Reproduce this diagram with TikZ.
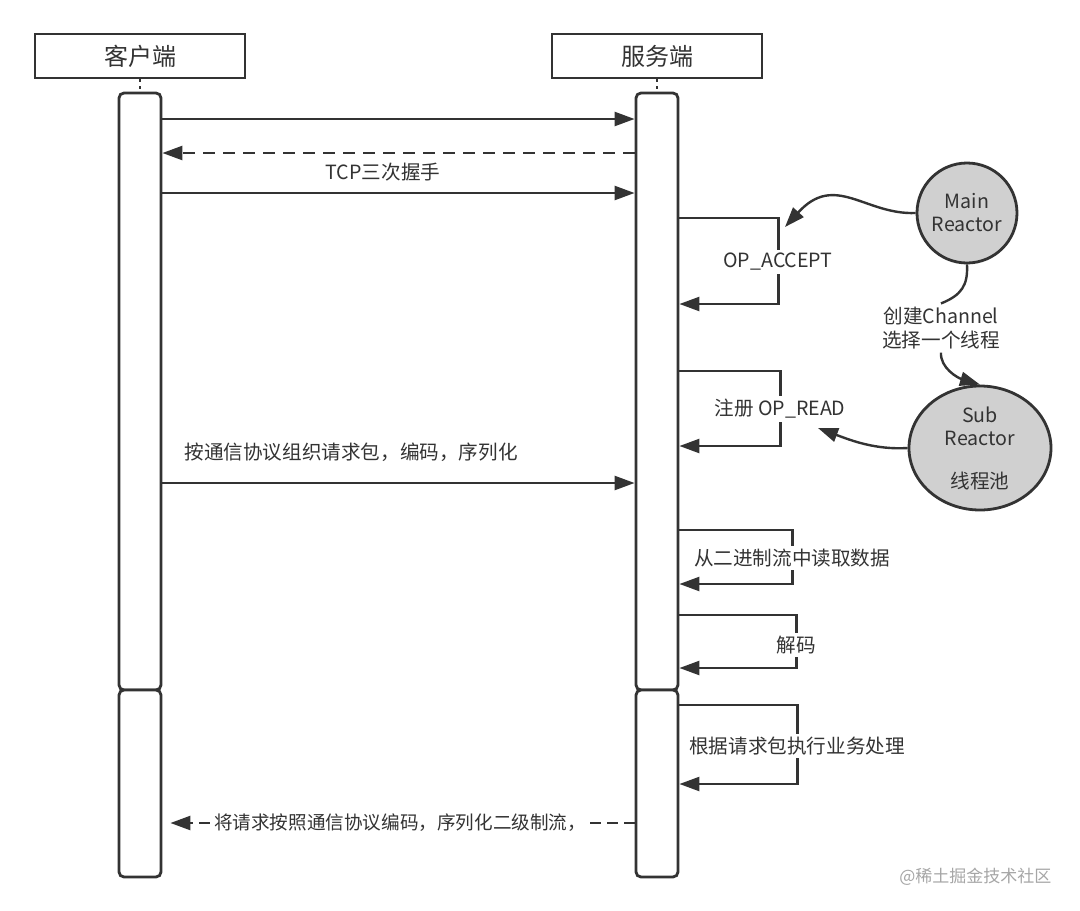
\documentclass[tikz,border=0pt]{standalone}
\usepackage{fontspec}
\setmainfont{Noto Sans CJK SC}
\usetikzlibrary{arrows.meta,shapes.geometric}
\definecolor{ink}{HTML}{333333}
\definecolor{reactorgray}{HTML}{D0D0D0}
\tikzset{
  lane/.style={draw=ink,line width=2.8pt,fill=white,minimum width=210pt,minimum height=44pt,
    text=ink,font=\fontsize{24}{28}\selectfont},
  bar/.style={draw=ink,line width=2.8pt,fill=white,rounded corners=5pt,minimum width=42pt},
  msg/.style={draw=ink,line width=2.4pt,-{Triangle[length=20pt,width=14pt]}},
  reply/.style={msg,dash pattern=on 12pt off 8pt},
  lbl/.style={text=ink,font=\fontsize{19.6}{24}\selectfont},
  looplbl/.style={lbl,fill=white,inner sep=3pt},
  reactor/.style={draw=ink,line width=2.8pt,fill=reactorgray,align=center,text=ink,
    font=\fontsize{19.6}{23}\selectfont}
}
\begin{document}
\begin{tikzpicture}[x=1pt,y=-1pt]
\useasboundingbox[fill=white] (0,0) rectangle (1080,911);
\node[lane] (client) at (140,56) {客户端};
\node[lane] (server) at (657,56) {服务端};
\draw[ink,line width=2.4pt,dash pattern=on 3pt off 4pt] (client.south) -- (140,93);
\draw[ink,line width=2.4pt,dash pattern=on 3pt off 4pt] (server.south) -- (657,93);
\node[bar,minimum height=597pt] (cbarA) at (140,391.5) {};
\node[bar,minimum height=187pt] (cbarB) at (140,783.5) {};
\node[bar,minimum height=597pt] (sbarA) at (657,391.5) {};
\node[bar,minimum height=187pt] (sbarB) at (657,783.5) {};
\coordinate (syn) at (0,119);
\coordinate (synack) at (0,153);
\coordinate (ack) at (0,193);
\coordinate (req) at (0,483);
\coordinate (resp) at (0,823);
\draw[msg] (cbarA.east |- syn) -- (sbarA.west |- syn);
\draw[reply] (sbarA.west |- synack) -- (cbarA.east |- synack);
\node[lbl] (tcp) at (383,172) {TCP三次握手};
\draw[msg] (cbarA.east |- ack) -- (sbarA.west |- ack);
\node[lbl,anchor=west] (encode) at (181,452) {按通信协议组织请求包，编码，序列化};
\draw[msg] (cbarA.east |- req) -- (sbarA.west |- req);
\draw[reply,dash pattern=on 11pt off 6pt,shorten >=8pt] (sbarB.west |- resp) -- (cbarB.east |- resp);
\node[looplbl,inner sep=2pt,font=\fontsize{18.6}{22}\selectfont] (answer) at (400,823) {将请求按照通信协议编码，序列化二级制流，};
\draw[msg] (sbarA.east |- 0,218) -- ++(99,0) |- (sbarA.east |- 0,304);
\node[looplbl] (accept) at (778,262) {OP\_ACCEPT};
\draw[msg] (sbarA.east |- 0,371) -- ++(101,0) |- (sbarA.east |- 0,446);
\node[looplbl] (read) at (780,409) {注册 OP\_READ};
\draw[msg] (sbarA.east |- 0,530) -- ++(113,0) |- (sbarA.east |- 0,584);
\node[looplbl] (fetch) at (792,558) {从二进制流中读取数据};
\draw[msg] (sbarA.east |- 0,615) -- ++(117,0) |- (sbarA.east |- 0,668);
\node[looplbl] (decode) at (796,645) {解码};
\draw[msg] (sbarB.east |- 0,705) -- ++(118,0) |- (sbarB.east |- 0,784);
\node[looplbl] (handle) at (797,746) {根据请求包执行业务处理};
\node[reactor,circle,minimum size=100pt,inner sep=0pt] (mainR) at (967,213) {Main\\Reactor};
\node[reactor,ellipse,minimum width=142pt,minimum height=124pt,inner sep=0pt] (subR) at (980,448)
  {Sub\\Reactor\\[20pt]线程池};
\node[lbl,align=center] (pick) at (941,328) {创建Channel\\选择一个线程};
\coordinate (acceptTip) at (785,227);
\coordinate (readTip) at (818,428);
\draw[msg] (mainR.west) .. controls (865,215) and (835,172) .. (acceptTip);
\draw[ink,line width=2.4pt] (mainR.south) .. controls (968,285) and (962,295) .. (pick.north);
\draw[msg] (pick.south) .. controls (940,368) and (958,378) .. (subR.north);
\draw[msg] (subR.west) .. controls (875,450) and (850,440) .. (readTip);
\node[anchor=east,text=gray!70,font=\fontsize{17}{20}\selectfont] (mark) at (1055,877) {@稀土掘金技术社区};
\end{tikzpicture}
\end{document}
